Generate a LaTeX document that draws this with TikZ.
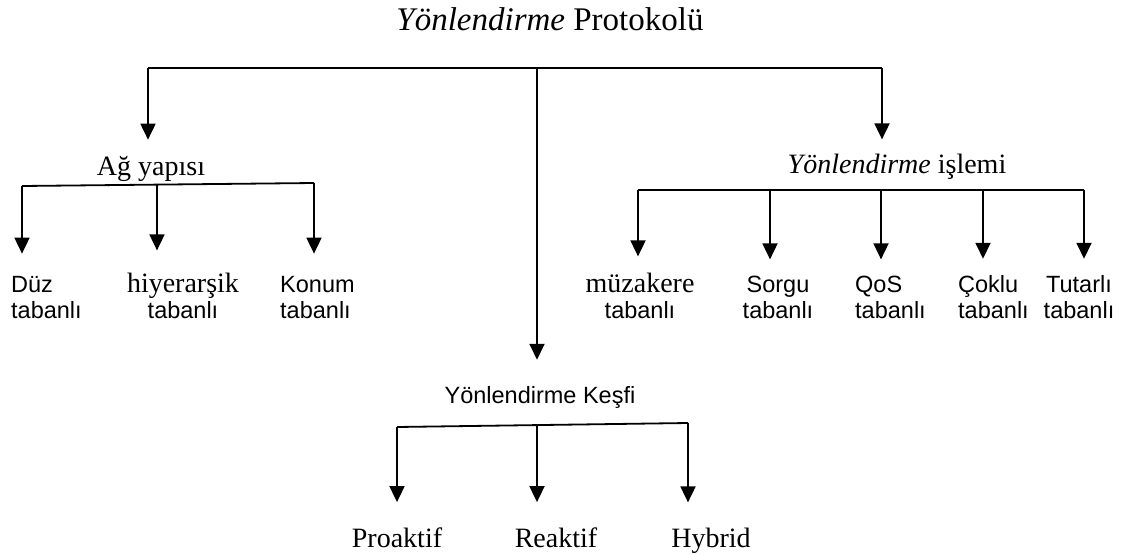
\documentclass[tikz,border=0pt]{standalone}
\usepackage{fontspec}
\setmainfont{Liberation Serif}
\setsansfont{Liberation Sans}
\usetikzlibrary{arrows.meta}
% a serif first line inside a sans leaf label
\newcommand{\serifline}[1]{{\fontsize{28}{26}\selectfont\rmfamily #1}}

\begin{document}
\begin{tikzpicture}[x=1pt,y=-1pt,
  link/.style={line width=1.8pt},
  arr/.style={link,-{Triangle[width=15pt,length=16pt]},shorten >=#1},
  arr/.default=18pt,
  titletext/.style={inner sep=0pt,anchor=base,font=\fontsize{33}{36}\selectfont\rmfamily},
  heading/.style={inner sep=0pt,anchor=base,font=\fontsize{28}{30}\selectfont\rmfamily},
  sanshead/.style={inner sep=0pt,anchor=base,font=\fontsize{23.5}{26}\selectfont\sffamily},
  leaf/.style={inner sep=0pt,anchor=base,align=center,font=\fontsize{23.5}{26}\selectfont\sffamily},
  leftleaf/.style={leaf,anchor=base west,align=left},
  serifleaf/.style={inner sep=0pt,anchor=base,font=\fontsize{28}{30}\selectfont\rmfamily},
]
\useasboundingbox (0,0) rectangle (1137,554);

% root and its three branches
\node[titletext] (root) at (550,30) {\textit{Yönlendirme} Protokolü};
\coordinate (rL) at (148,68);
\coordinate (rM) at (537,68);
\coordinate (rR) at (882,68);
\draw[link] (rL) -- (rR);

\node[heading] (ag) at (151,175) {Ağ yapısı};
\node[heading] (yi) at (897,173) {\textit{Yönlendirme} işlemi};
\node[sanshead] (yk) at (540,403) {Yönlendirme Keşfi};

\draw[arr=16pt] (rL) -- (rL |- ag.north);
\draw[arr=14pt] (rR) -- (rR |- yi.north);
\draw[arr=26pt] (rM) -- (rM |- yk.north);

% network structure (labels sit on the baseline of their second line)
\coordinate (a1) at (22,186);
\coordinate (a2) at (157,184.6);
\coordinate (a3) at (314,183);
\draw[link] (a1) -- (a3);
\node[leftleaf] (duz) at (11,318) {Düz\\tabanlı};
\node[leaf] (hiy) at (183,318) {\serifline{hiyerarşik}\\tabanlı};
\node[leftleaf] (konum) at (280,318) {Konum\\tabanlı};
\draw[arr=22pt] (a1) -- (a1 |- duz.north);
\draw[arr=22pt] (a2) -- (a2 |- hiy.north);
\draw[arr=22pt] (a3) -- (a3 |- konum.north);

% routing operation
\coordinate (i1) at (638,190);
\coordinate (i2) at (770,190);
\coordinate (i3) at (881,190);
\coordinate (i4) at (983,190);
\coordinate (i5) at (1084,190);
\draw[link] (i1) -- (i5);
\node[leaf] (muz) at (640,318) {\serifline{müzakere}\\tabanlı};
\node[leaf] (sorgu) at (778,318) {Sorgu\\tabanlı};
\node[leftleaf] (qos) at (855,318) {QoS\\tabanlı};
\node[leftleaf] (coklu) at (958,318) {Çoklu\\tabanlı};
\node[leaf] (tutarli) at (1079,318) {Tutarlı\\tabanlı};
\draw[arr=16pt] (i1) -- (i1 |- muz.north);
\draw[arr=16pt] (i2) -- (i2 |- sorgu.north);
\draw[arr=16pt] (i3) -- (i3 |- qos.north);
\draw[arr=16pt] (i4) -- (i4 |- coklu.north);
\draw[arr=16pt] (i5) -- (i5 |- tutarli.north);

% route discovery
\coordinate (k1) at (397,427);
\coordinate (k2) at (537,425);
\coordinate (k3) at (688,423);
\draw[link] (k1) -- (k3);
\node[serifleaf] (pro) at (397,547) {Proaktif};
\node[serifleaf] (rea) at (556,547) {Reaktif};
\node[serifleaf] (hyb) at (711,547) {Hybrid};
\draw[arr=25pt] (k1) -- (k1 |- pro.north);
\draw[arr=25pt] (k2) -- (k2 |- rea.north);
\draw[arr=25pt] (k3) -- (k3 |- hyb.north);
\end{tikzpicture}
\end{document}
